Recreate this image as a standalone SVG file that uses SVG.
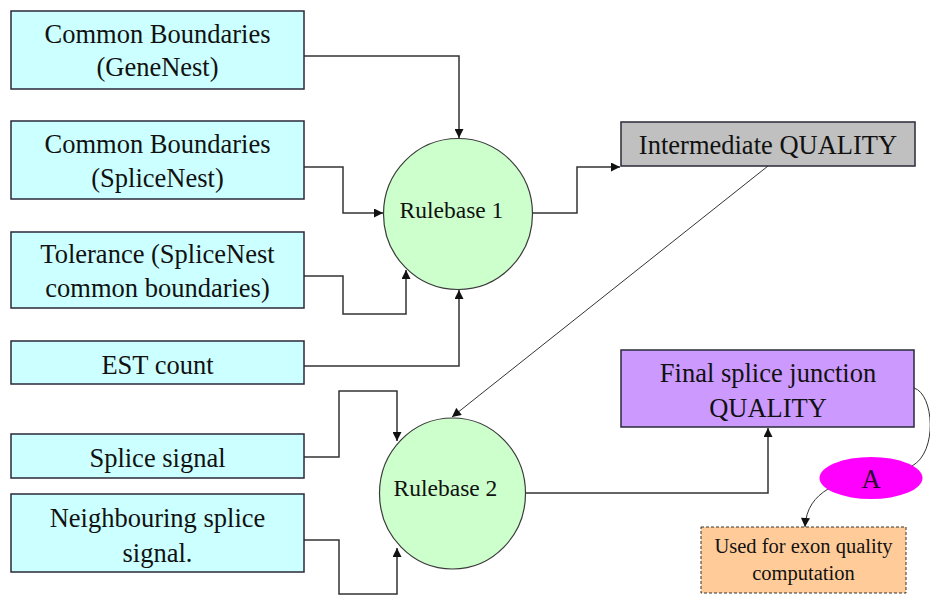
<svg xmlns="http://www.w3.org/2000/svg" width="930" height="595" viewBox="0 0 930 595">
  <defs>
    <marker id="arrow" viewBox="0 0 10 10" refX="10" refY="5" markerWidth="11" markerHeight="9" markerUnits="userSpaceOnUse" orient="auto">
      <path d="M0,0 L10,5 L0,10 z" fill="#111"/>
    </marker>
    <style>
      .box { stroke: #2a2a3a; stroke-width: 1.5; }
      .input { fill: #ccffff; }
      .rule { fill: #ccffcc; stroke: #3a3a3a; stroke-width: 1.2; }
      text { font-family: 'Liberation Serif', 'DejaVu Serif', serif; font-size: 26.5px; fill: #111; text-anchor: middle; }
      .small { font-size: 20.5px; }
      .rtxt { font-size: 23.5px; }
      .wire { fill: none; stroke: #333; stroke-width: 1.5; }
      .thin { fill: none; stroke: #333; stroke-width: 1; }
    </style>
  </defs>

  <rect width="930" height="595" fill="#ffffff"/>

  <!-- connectors -->
  <g id="connectors">
    <polyline class="wire" points="304,56 459,56 459,138" marker-end="url(#arrow)"/>
    <polyline class="wire" points="304,167 343,167 343,213 383,213" marker-end="url(#arrow)"/>
    <polyline class="wire" points="304,276 343,276 343,314 406,314 406,270" marker-end="url(#arrow)"/>
    <polyline class="wire" points="304,366 459,366 459,290" marker-end="url(#arrow)"/>
    <polyline class="wire" points="533,213 577,213 577,167 620,167" marker-end="url(#arrow)"/>
    <line class="thin" x1="768" y1="166" x2="452" y2="417" marker-end="url(#arrow)"/>
    <polyline class="wire" points="304,457 339,457 339,391 397,391 397,441" marker-end="url(#arrow)"/>
    <polyline class="wire" points="304,540 339,540 339,594 397,594 397,548" marker-end="url(#arrow)"/>
    <polyline class="wire" points="526,493 768,493 768,428" marker-end="url(#arrow)"/>
    <path class="thin" d="M914,388 C934,394 938,452 912,466"/>
    <path class="thin" d="M828,489 C815,497 806,508 805,527" marker-end="url(#arrow)"/>
  </g>

  <!-- input boxes -->
  <g id="common-boundaries-genenest">
    <rect class="box input" x="11" y="11" width="293" height="78"/>
    <text x="157.5" y="43">Common Boundaries</text>
    <text x="157.5" y="76">(GeneNest)</text>
  </g>
  <g id="common-boundaries-splicenest">
    <rect class="box input" x="11" y="121" width="293" height="78"/>
    <text x="157.5" y="153">Common Boundaries</text>
    <text x="157.5" y="187">(SpliceNest)</text>
  </g>
  <g id="tolerance">
    <rect class="box input" x="11" y="232" width="293" height="76"/>
    <text x="157.5" y="263">Tolerance (SpliceNest</text>
    <text x="157.5" y="297">common boundaries)</text>
  </g>
  <g id="est-count">
    <rect class="box input" x="11" y="341" width="293" height="43"/>
    <text x="157.5" y="374">EST count</text>
  </g>
  <g id="splice-signal">
    <rect class="box input" x="11" y="434" width="293" height="44"/>
    <text x="157.5" y="467">Splice signal</text>
  </g>
  <g id="neighbouring-splice-signal">
    <rect class="box input" x="11" y="494" width="293" height="78"/>
    <text x="157.5" y="527">Neighbouring splice</text>
    <text x="157.5" y="562">signal.</text>
  </g>

  <!-- rule bases -->
  <g id="rulebase-1">
    <ellipse class="rule" cx="458" cy="214" rx="74.5" ry="75.5"/>
    <text class="rtxt" x="451.5" y="218">Rulebase 1</text>
  </g>
  <g id="rulebase-2">
    <ellipse class="rule" cx="452.5" cy="493.5" rx="73" ry="75.5"/>
    <text class="rtxt" x="445.5" y="496">Rulebase 2</text>
  </g>

  <!-- outputs -->
  <g id="intermediate-quality">
    <rect class="box" x="621" y="122" width="294" height="44" fill="#c0c0c0"/>
    <text x="768" y="154">Intermediate QUALITY</text>
  </g>
  <g id="final-quality">
    <rect class="box" x="621" y="350" width="293" height="77" fill="#cc99ff"/>
    <text x="768" y="382">Final splice junction</text>
    <text x="768" y="417">QUALITY</text>
  </g>
  <g id="connector-a">
    <ellipse cx="871" cy="478" rx="51.5" ry="21" fill="#ff00ff"/>
    <text x="871" y="488" style="fill:#2a0030">A</text>
  </g>
  <g id="exon-quality">
    <rect x="701" y="527" width="205" height="66" fill="#ffcc99" stroke="#333" stroke-width="1" stroke-dasharray="3,2"/>
    <text class="small" x="803.5" y="553">Used for exon quality</text>
    <text class="small" x="803.5" y="580">computation</text>
  </g>
</svg>
